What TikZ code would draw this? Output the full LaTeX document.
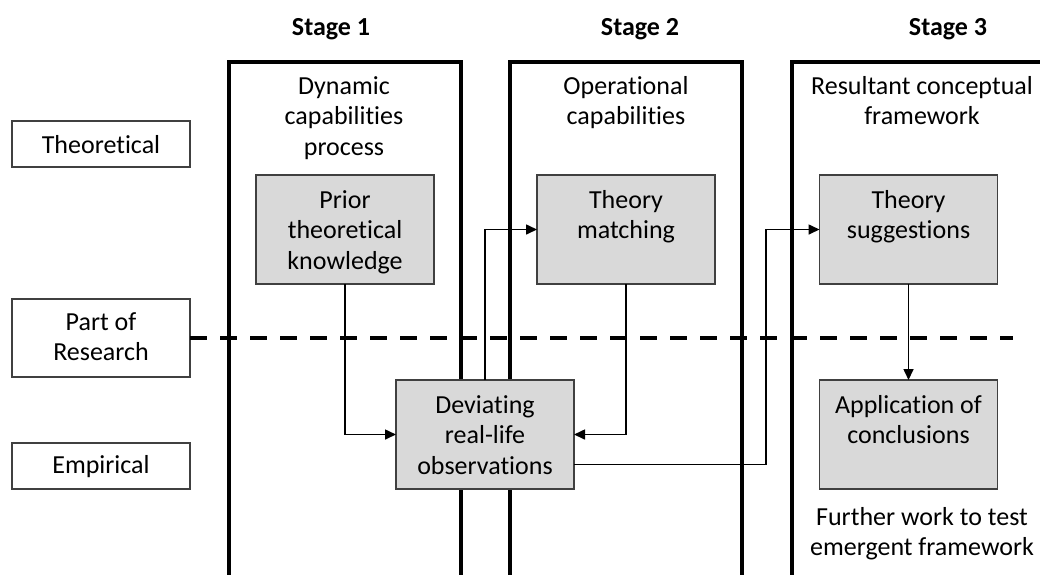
\documentclass[tikz,border=0pt]{standalone}
\usepackage{fontspec}
\setmainfont{Carlito}[Ligatures=CommonOff]
\usetikzlibrary{arrows.meta}
\definecolor{boxgray}{HTML}{D9D9D9}
\definecolor{edgegray}{HTML}{404040}
\begin{document}
\begin{tikzpicture}[x=1pt,y=-1pt,
  every node/.style={font=\fontsize{26}{30.5}\selectfont, inner sep=0pt, outer sep=0pt},
  stagebox/.style={draw=black, line width=3.6pt},
  sidebox/.style={draw=edgegray, line width=1.3pt, fill=white, minimum width=178pt},
  graybox/.style={draw=edgegray, line width=1.3pt, fill=boxgray, minimum width=178pt, minimum height=109pt},
  txt/.style={align=center, anchor=base},
  heading/.style={txt, font=\fontsize{26}{30.5}\selectfont\bfseries},
  conn/.style={line width=1.6pt, -{Triangle[length=11pt,width=10pt]}},
  divider/.style={line width=4pt, dash pattern=on 17pt off 13pt},
]
\clip (0,0) rectangle (1040,574);

% stage columns (open towards the bottom and right edge)
\draw[stagebox] (229,62) rectangle (461,620);
\draw[stagebox] (510,62) rectangle (742,620);
\draw[stagebox] (792,62) rectangle (1070,620);

% stage headings
\node[heading] (s1) at (331,35) {Stage 1};
\node[heading] (s2) at (640,35) {Stage 2};
\node[heading] (s3) at (948,35) {Stage 3};

% column titles (anchored at the baseline of their last line)
\node[txt] (t1) at (344,155) {Dynamic\\capabilities\\process};
\node[txt] (t2) at (626,124.5) {Operational\\capabilities};
\node[txt] (t3) at (922,124.5) {Resultant conceptual\\framework};

% row labels
\node[sidebox, minimum height=46pt] (theo) at (101,144) {};
\node[txt] (theolbl) at (101,153) {Theoretical};
\node[sidebox, minimum height=78pt] (part) at (101,338) {};
\node[txt] (partlbl) at (101,360.5) {Part of\\Research};
\node[sidebox, minimum height=46pt] (emp) at (101,466) {};
\node[txt] (emplbl) at (101,473) {Empirical};

% dashed divider between theoretical and empirical levels
\coordinate (divend) at (1013,338);
\draw[divider] (part.east) -- (divend);

% process boxes
\node[graybox] (prior) at (345,229.5) {};
\node[txt] (priorlbl) at (345,269) {Prior\\theoretical\\knowledge};
\node[graybox] (match) at (626,229.5) {};
\node[txt] (matchlbl) at (626,238.5) {Theory\\matching};
\node[graybox] (sugg) at (908.5,229.5) {};
\node[txt] (sugglbl) at (908.5,238.5) {Theory\\suggestions};
\node[graybox] (dev) at (485,434.5) {};
\node[txt] (devlbl) at (485,474) {Deviating\\real-life\\observations};
\node[graybox] (app) at (908.5,434.5) {};
\node[txt] (applbl) at (908.5,443.5) {Application of\\conclusions};

\node[txt] (further) at (922,555.5) {Further work to test\\emergent framework};

% connectors
\draw[conn] (prior.south) |- (dev.west);
\draw[conn] (match.south) |- (dev.east);
\draw[conn] (dev.north) |- (match.west);
\draw[conn] ([yshift=-30pt]dev.east) -- ++(192,0) |- (sugg.west);
\draw[conn] (sugg.south) -- (app.north);
\end{tikzpicture}
\end{document}
